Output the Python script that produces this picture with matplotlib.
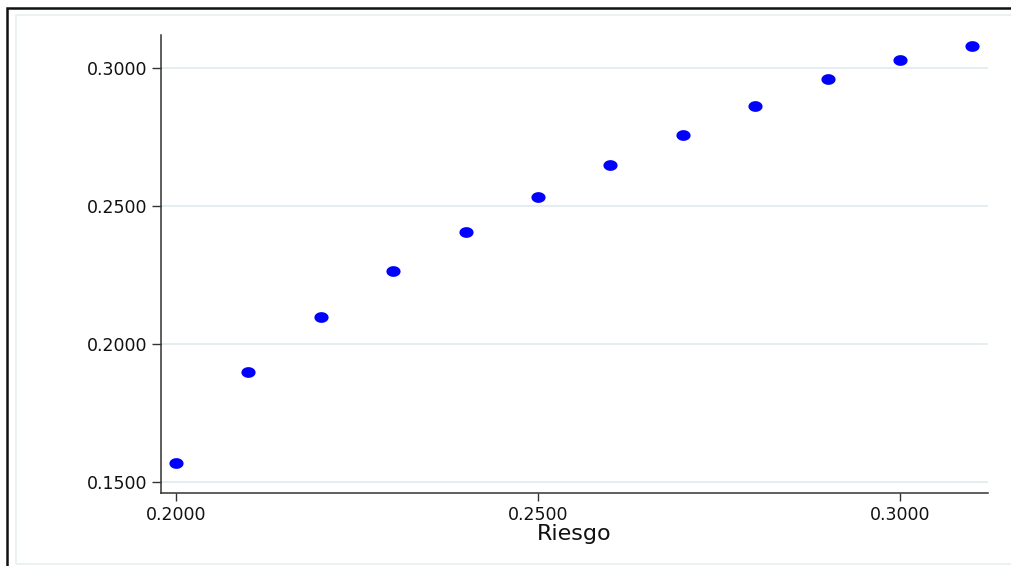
import matplotlib
matplotlib.use("Agg")
import matplotlib.pyplot as plt
import numpy as np
from matplotlib.path import Path
from matplotlib.patches import Rectangle

# Data
riesgo = [0.20, 0.21, 0.22, 0.23, 0.24, 0.25, 0.26, 0.27, 0.28, 0.29, 0.30, 0.31]
valor = [0.1569, 0.1899, 0.2098, 0.2265, 0.2406, 0.2533, 0.2649, 0.2757,
         0.2862, 0.2960, 0.3029, 0.3080]
xticks = [0.20, 0.25, 0.30]
yticks = [0.15, 0.20, 0.25, 0.30]
xlabel = "Riesgo"

W, H = 1011, 566
fig = plt.figure(figsize=(W / 100, H / 100), dpi=100)
fig.patch.set_facecolor("white")

# outer frames (Stata-style graph region), cropped on right and bottom
fig.patches.append(Rectangle((7 / W, -0.1), 1.2, (H - 8) / H + 0.1, transform=fig.transFigure,
                             fill=False, edgecolor="#111111", linewidth=1.8, zorder=0))
fig.patches.append(Rectangle((16 / W, (H - 564) / H), 1.2, (564 - 15) / H, transform=fig.transFigure,
                             fill=False, edgecolor="#e8eef1", linewidth=1.2, zorder=0))

ax = fig.add_axes([161 / W, (H - 493) / H, (988 - 161) / W, (493 - 35) / H])
ax.set_facecolor("white")

# elliptical marker
t = np.linspace(0, 2 * np.pi, 60)
verts = np.column_stack([1.32 * np.cos(t), np.sin(t)])
ell = Path(verts, closed=True)

ax.scatter(riesgo, valor, marker=ell, s=10.2 ** 2, color="#0000ff", linewidths=0,
           zorder=3, clip_on=False)

ax.set_xlim(0.19793, 0.31215)
ax.set_ylim(0.146, 0.312)
ax.set_xticks(xticks)
ax.set_xticklabels([f"{v:.4f}" for v in xticks])
ax.set_yticks(yticks)
ax.set_yticklabels([f"{v:.4f}" for v in yticks])

for s in ["top", "right"]:
    ax.spines[s].set_visible(False)
for s in ["left", "bottom"]:
    ax.spines[s].set_color("#333333")
    ax.spines[s].set_linewidth(1.1)

ax.yaxis.grid(True, color="#e6edf1", linewidth=1.4)
ax.xaxis.grid(False)
ax.set_axisbelow(True)

ax.tick_params(axis="y", length=6.5, width=1.0, color="#333333", pad=3.5,
               labelsize=12.5, labelcolor="#111111")
ax.tick_params(axis="x", length=5.5, width=1.0, color="#333333", pad=4,
               labelsize=12.5, labelcolor="#111111")
for lab in ax.get_xticklabels() + ax.get_yticklabels():
    lab.set_fontfamily("DejaVu Sans")

ax.set_xlabel(xlabel, fontsize=16, family="DejaVu Sans", color="#111111", labelpad=0)

fig.savefig("out.png", dpi=100)
